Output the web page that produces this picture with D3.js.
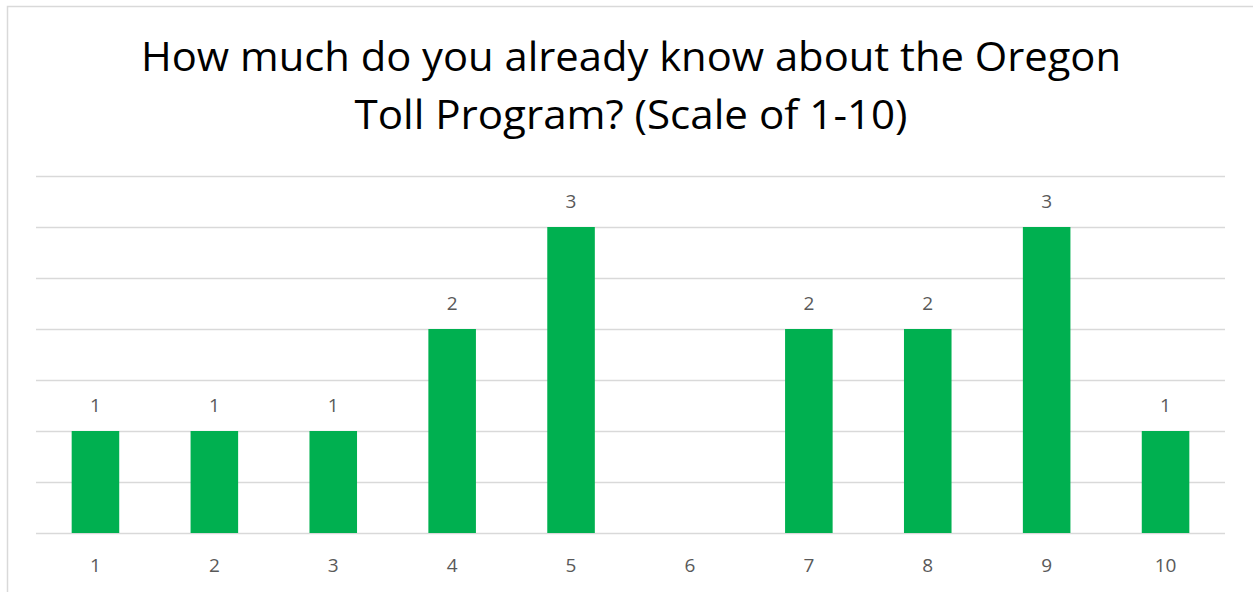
<!DOCTYPE html>
<html>
<head>
<meta charset="utf-8">
<script src="https://cdn.jsdelivr.net/npm/d3@7"></script>
<style>
  body { margin: 0; background: #fff; }
  svg { display: block; }
</style>
</head>
<body>
<div id="chart"><svg width="1253" height="592"></svg></div>
<script>
// data
const categories = ["1", "2", "3", "4", "5", "6", "7", "8", "9", "10"];
const counts = [1, 1, 1, 2, 3, 0, 2, 2, 3, 1];
const titleLines = ["How much do you already know about the Oregon", "Toll Program? (Scale of 1-10)"];

const data = categories.map((c, i) => ({cat: c, value: counts[i]}));

/***** setup *****/
const svg = d3.select("#chart").select("svg");
const width = 1253, height = 592;
const margin = {top: 176, left: 36, right: 28, bottom: 59};
const font = "'Open Sans', sans-serif";
const barColor = "#00B050";
const gridColor = "#d9d9d9";
const labelColor = "#595959";

// outer chart border
svg.append("rect")
    .attr("x", 7.5)
    .attr("y", 6.5)
    .attr("width", width)
    .attr("height", height)
    .style("fill", "none")
    .style("stroke", gridColor)
    .style("stroke-width", 1.5);

/***** scales *****/
let xScale = d3.scaleBand()
    .domain(categories)
    .range([margin.left, width - margin.right])
    .paddingInner(0.6)
    .paddingOuter(0.3);

let yScale = d3.scaleLinear()
    .domain([0, 3.5])
    .range([height - margin.bottom, margin.top]);

/***** gridlines *****/
let yGrid = d3.axisLeft(yScale)
    .tickValues(d3.range(0, 3.51, 0.5))
    .tickSize(-(width - margin.left - margin.right))
    .tickFormat("");

svg.append("g")
    .attr("class", "yGrid")
    .attr("transform", `translate(${margin.left},0)`)
    .call(yGrid)
    .call(g => g.select(".domain").remove())
    .selectAll("line")
    .attr("stroke", gridColor)
    .attr("stroke-width", 1.3);

/***** bars *****/
svg.selectAll(".bar")
    .data(data.filter(d => d.value > 0))
    .enter()
    .append("rect")
    .attr("class", "bar")
    .attr("x", d => xScale(d.cat))
    .attr("y", d => yScale(d.value))
    .attr("width", xScale.bandwidth())
    .attr("height", d => yScale(0) - yScale(d.value))
    .style("fill", barColor);

// data labels
svg.selectAll(".valueLabel")
    .data(data.filter(d => d.value > 0))
    .enter()
    .append("text")
    .attr("class", "valueLabel")
    .attr("x", d => xScale(d.cat) + xScale.bandwidth() / 2)
    .attr("y", d => yScale(d.value) - 19)
    .attr("text-anchor", "middle")
    .style("font-family", font)
    .style("font-size", "19px")
    .style("fill", labelColor)
    .text(d => d.value);

/***** x axis *****/
let xAxis = d3.axisBottom(xScale)
    .tickSize(0);

svg.append("g")
    .attr("class", "xAxis")
    .attr("transform", `translate(0,${height - margin.bottom})`)
    .call(xAxis)
    .call(g => g.select(".domain").remove())
    .selectAll("text")
    .attr("y", 39)
    .attr("dy", 0)
    .style("font-family", font)
    .style("font-size", "19px")
    .style("fill", labelColor);

/***** title *****/
const titleBaselines = [71, 129];
const titleWidths = [980, 553];
svg.selectAll(".chartTitle")
    .data(titleLines)
    .enter()
    .append("text")
    .attr("class", "chartTitle")
    .attr("x", 631)
    .attr("y", (d, i) => titleBaselines[i])
    .attr("text-anchor", "middle")
    .attr("textLength", (d, i) => titleWidths[i])
    .attr("lengthAdjust", "spacingAndGlyphs")
    .style("font-family", font)
    .style("font-size", "40px")
    .style("fill", "#000")
    .text(d => d);
</script>
</body>
</html>
